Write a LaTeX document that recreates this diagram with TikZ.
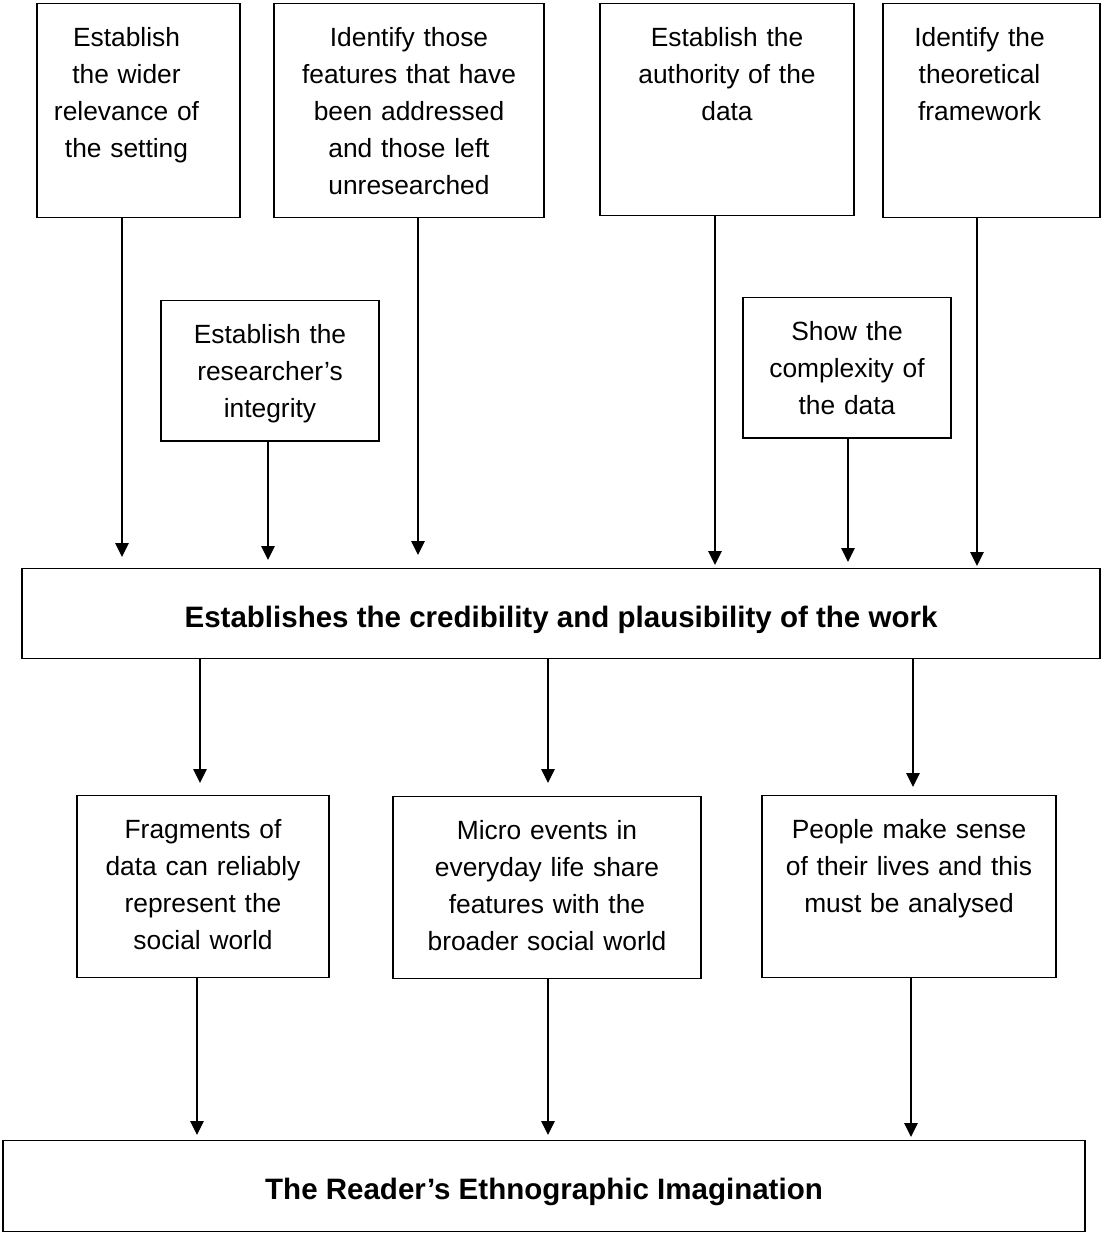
\documentclass[tikz,border=0pt]{standalone}
\usepackage{fontspec}
\setmainfont{Liberation Sans}
\usetikzlibrary{arrows.meta}

\begin{document}
\begin{tikzpicture}[
        x=0.02cm,y=-0.02cm,
        every node/.append style={font=\fontsize{15}{21}\selectfont},
        step box/.style={
          draw,line width=0.8pt,anchor=north,align=center,
          inner xsep=0.1cm,inner ysep=0.48cm,text height=0.38cm},
        top row/.style={step box,text depth=2.94cm},
        mid row/.style={step box,text depth=1.47cm},
        low row/.style={step box,text depth=2.3cm},
        lean left/.style={execute at begin node={\advance\rightskip by 0.48cm}},
        wide box/.style={
          draw,line width=0.8pt,anchor=north,inner ysep=0pt,
          text height=1.17cm,text depth=#1,
          font=\fontsize{16.8}{21}\selectfont\bfseries},
        every edge/.append style={line width=0.8pt,
          -{Triangle[length=0.28cm,width=0.27cm]}}]
      \useasboundingbox (0,0) rectangle (1103,1234);
      % upper boxes
      \node[top row,lean left,text width=3.86cm] (relevance) at (138.5,3)
        {Establish\\the wider\\relevance of\\the setting};
      \node[top row,text width=5.2cm] (features) at (409,3)
        {Identify those\\features that have\\been addressed\\and those left\\unresearched};
      \node[top row,text width=4.88cm,text depth=2.9cm] (authority) at (727,3)
        {Establish the\\authority of the\\data};
      \node[top row,lean left,text width=4.14cm] (framework) at (991.5,3)
        {Identify the\\theoretical\\framework};
      \node[mid row,text width=4.16cm] (integrity) at (270,300)
        {Establish the\\researcher's\\integrity};
      \node[mid row,text width=3.96cm] (complexity) at (847,297)
        {Show the\\complexity of\\the data};
      % centre line
      \node[wide box=0.63cm,minimum width=21.56cm] (credibility) at (561,568)
        {Establishes the credibility and plausibility of the work};
      % lower boxes
      \node[low row,text width=4.84cm] (fragments) at (203,795)
        {Fragments of\\data can reliably\\represent the\\social world};
      \node[low row,text width=5.96cm] (micro) at (547,796)
        {Micro events in\\everyday life share\\features with the\\broader social world};
      \node[low row,text width=5.68cm] (sense) at (909,795)
        {People make sense\\of their lives and this\\must be analysed};
      \node[wide box=0.65cm,minimum width=21.64cm] (imagination) at (544,1140)
        {The Reader's Ethnographic Imagination};
      % arrows into the centre line
      \path (relevance.south -| 122,0) edge[shorten >=0.22cm] (credibility.north -| 122,0);
      \path (integrity.south -| 268,0) edge[shorten >=0.16cm] (credibility.north -| 268,0);
      \path (features.south -| 418,0) edge[shorten >=0.26cm] (credibility.north -| 418,0);
      \path (authority.south -| 715,0) edge[shorten >=0.06cm] (credibility.north -| 715,0);
      \path (complexity.south -| 848,0) edge[shorten >=0.12cm] (credibility.north -| 848,0);
      \path (framework.south -| 977,0) edge[shorten >=0.04cm] (credibility.north -| 977,0);
      % arrows out of it
      \path (credibility.south -| 200,0) edge[shorten >=0.24cm] (fragments.north -| 200,0);
      \path (credibility.south -| 548,0) edge[shorten >=0.26cm] (micro.north -| 548,0);
      \path (credibility.south -| 913,0) edge[shorten >=0.16cm] (sense.north -| 913,0);
      \path (fragments.south -| 197,0) edge[shorten >=0.1cm] (imagination.north -| 197,0);
      \path (micro.south -| 548,0) edge[shorten >=0.1cm] (imagination.north -| 548,0);
      \path (sense.south -| 911,0) edge[shorten >=0.06cm] (imagination.north -| 911,0);
    \end{tikzpicture}
\end{document}
